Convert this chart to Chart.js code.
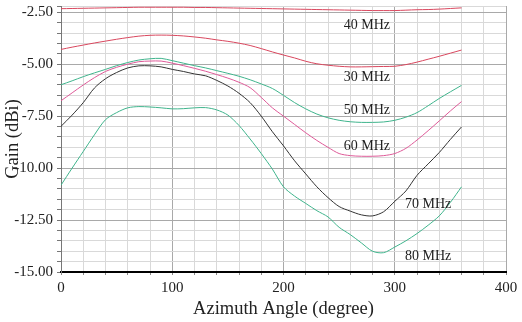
<!DOCTYPE html>
<html><head><meta charset="utf-8">
<script src="https://cdn.jsdelivr.net/npm/chart.js@4/dist/chart.umd.min.js"></script>
<style>html,body{margin:0;padding:0;background:#fff}#wrap{width:522px;height:322px}</style>
</head><body><div id="wrap"><canvas id="c" width="522" height="322"></canvas></div>
<script>
const angles = [0,10,20,30,40,50,60,70,80,90,100,110,120,130,140,150,160,170,180,190,200,210,220,230,240,250,260,270,280,290,300,310,320,330,340,350,360];
const gain40 = [-2.33,-2.32,-2.31,-2.30,-2.29,-2.28,-2.27,-2.26,-2.26,-2.26,-2.26,-2.26,-2.27,-2.27,-2.28,-2.29,-2.30,-2.31,-2.32,-2.33,-2.34,-2.35,-2.36,-2.37,-2.38,-2.39,-2.40,-2.41,-2.42,-2.42,-2.42,-2.40,-2.38,-2.37,-2.35,-2.32,-2.29];
const gain30 = [-4.29,-4.18,-4.08,-3.98,-3.89,-3.80,-3.72,-3.65,-3.61,-3.60,-3.61,-3.64,-3.69,-3.75,-3.83,-3.90,-3.99,-4.10,-4.25,-4.41,-4.56,-4.70,-4.86,-4.98,-5.05,-5.10,-5.13,-5.13,-5.12,-5.11,-5.10,-5.02,-4.90,-4.76,-4.62,-4.47,-4.32];
const gain50 = [-5.99,-5.80,-5.60,-5.42,-5.25,-5.07,-4.92,-4.80,-4.74,-4.72,-4.83,-4.95,-5.07,-5.18,-5.31,-5.44,-5.58,-5.75,-5.95,-6.17,-6.50,-6.85,-7.15,-7.40,-7.58,-7.70,-7.77,-7.80,-7.80,-7.78,-7.70,-7.55,-7.33,-7.00,-6.65,-6.33,-6.02];
const gain60 = [-6.76,-6.38,-6.00,-5.65,-5.35,-5.15,-5.00,-4.88,-4.85,-4.85,-4.95,-5.07,-5.20,-5.34,-5.50,-5.67,-5.87,-6.13,-6.60,-7.10,-7.50,-7.90,-8.30,-8.67,-9.00,-9.30,-9.40,-9.43,-9.43,-9.40,-9.30,-9.05,-8.65,-8.20,-7.73,-7.25,-6.80];
const gain70 = [-7.99,-7.45,-6.85,-6.15,-5.70,-5.40,-5.18,-5.08,-5.08,-5.13,-5.25,-5.35,-5.47,-5.56,-5.78,-6.05,-6.40,-6.85,-7.50,-8.25,-8.93,-9.65,-10.28,-10.90,-11.42,-11.85,-12.07,-12.25,-12.30,-12.10,-11.60,-11.10,-10.35,-9.80,-9.25,-8.62,-8.02];
const gain80 = [-10.82,-10.00,-9.20,-8.40,-7.67,-7.33,-7.10,-7.04,-7.06,-7.10,-7.15,-7.14,-7.10,-7.09,-7.20,-7.45,-7.95,-8.60,-9.30,-10.05,-10.90,-11.35,-11.70,-12.05,-12.35,-12.85,-13.20,-13.60,-14.00,-14.07,-13.80,-13.50,-13.15,-12.75,-12.30,-11.65,-10.90];
const seriesNames = ['40 MHz','30 MHz','50 MHz','60 MHz','70 MHz','80 MHz'];
const xTickLabels = [0,100,200,300,400];
const yTickLabels = [-15,-12.5,-10,-7.5,-5,-2.5];

const colors = ['#d9475e','#d9475e','#3fb48c','#de5a98','#333333','#3fb48c'];
const seriesData = [gain40,gain30,gain50,gain60,gain70,gain80];

const labelPos = [[275,-3.14],[275,-5.62],[275,-7.2],[275,-8.94],[330,-11.73],[330,-14.23]];

const serif = "'Liberation Serif','DejaVu Serif',serif";

const curveLabels = {
  id:'curveLabels',
  afterDatasetsDraw(chart){
    const {ctx, scales:{x,y}} = chart;
    ctx.save();
    ctx.font = "14px " + serif;
    ctx.fillStyle = '#222';
    ctx.textAlign = 'center';
    ctx.textBaseline = 'middle';
    seriesNames.forEach((n,i)=>{
      ctx.fillText(n, x.getPixelForValue(labelPos[i][0]), y.getPixelForValue(labelPos[i][1]));
    });
    ctx.restore();
  }
};

new Chart(document.getElementById('c'), {
  type:'line',
  data:{
    datasets: seriesNames.map((n,i)=>({
      label:n,
      data: angles.map((a,j)=>({x:a,y:seriesData[i][j]})),
      borderColor: colors[i],
      borderWidth: 1,
      pointRadius: 0,
      tension: 0.3,
      fill:false
    }))
  },
  options:{
    responsive:false,
    animation:false,
    layout:{padding:{top:6,right:16,left:0,bottom:0}},
    plugins:{legend:{display:false},tooltip:{enabled:false}},
    scales:{
      x:{
        type:'linear', min:0, max:400,
        afterBuildTicks(s){ const t=[]; for(let v=0; v<=400; v+=20) t.push({value:v}); s.ticks=t; },
        afterFit(s){ s.height = 50; s.paddingLeft = 0; s.paddingRight = 0; },
        ticks:{
          autoSkip:false, maxRotation:0, padding:4,
          font:{family:serif,size:15}, color:'#222',
          callback:(v)=> xTickLabels.includes(v) ? String(v) : ''
        },
        grid:{
          color:(c)=> (c.tick && c.tick.value % 100 === 0) ? '#a9a9a9' : '#d9d9d9',
          tickColor:'#888', tickLength:3, lineWidth:1
        },
        border:{color:'#000', width:2},
        title:{display:true, text:'Azimuth Angle (degree)', font:{family:serif,size:18.5}, color:'#222', padding:{top:0,bottom:2}}
      },
      y:{
        type:'linear', min:-15, max:-2.2,
        afterBuildTicks(s){ const t=[]; for(let k=0; k<=25; k++) t.push({value:-15+k*0.5}); t.push({value:-2.2}); s.ticks=t; },
        afterFit(s){ s.width = 61; s.paddingTop = 0; s.paddingBottom = 0; },
        ticks:{
          autoSkip:false, padding:4,
          font:{family:serif,size:15}, color:'#222',
          callback:(v)=> yTickLabels.some(t=>Math.abs(t-v)<1e-6) ? v.toFixed(2) : ''
        },
        grid:{
          color:(c)=> (c.tick && yTickLabels.some(t=>Math.abs(t-c.tick.value)<1e-6)) ? '#a9a9a9' : '#d9d9d9',
          tickColor:'#777', tickLength:4, lineWidth:1
        },
        border:{color:'#777', width:1},
        title:{display:true, text:'Gain (dBi)', font:{family:serif,size:18.5}, color:'#222', padding:{top:2,bottom:0}}
      }
    }
  },
  plugins:[curveLabels]
});
</script>
</body></html>
